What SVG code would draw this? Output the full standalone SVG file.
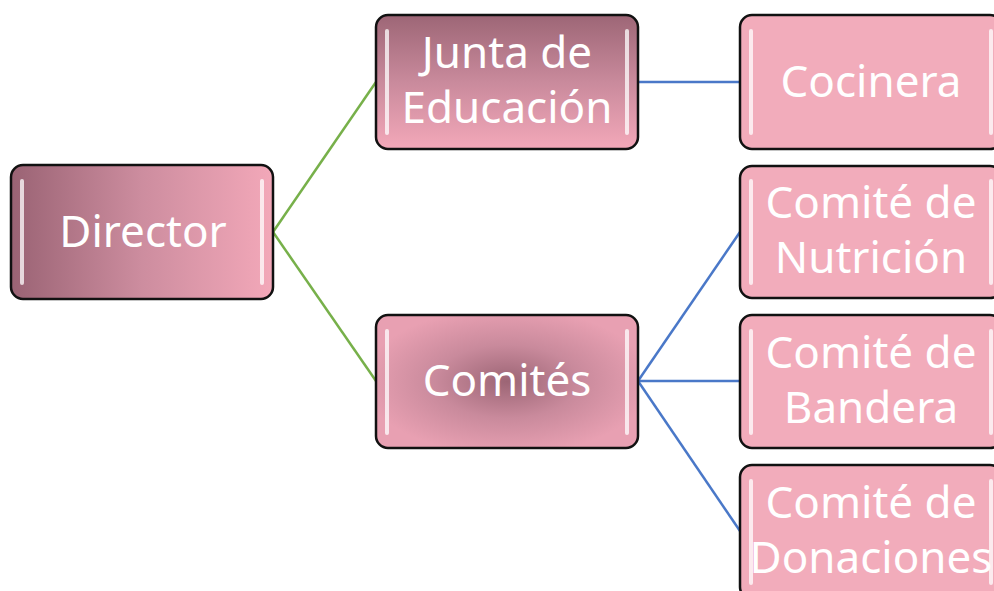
<svg xmlns="http://www.w3.org/2000/svg" width="994" height="591" viewBox="0 0 994 591">
<style>
.box{stroke:#111;stroke-width:2.5}
.t{font-family:"Noto Sans","Open Sans",sans-serif;font-size:44px;fill:#fff;text-anchor:middle}
.hl{fill:#fff;opacity:0.75}
.g{stroke:#77b04a;stroke-width:2.5;fill:none}
.b{stroke:#4a78c8;stroke-width:2.5;fill:none}
</style>
<defs>
<linearGradient id="gh" x1="0" y1="0" x2="1" y2="0">
<stop offset="0" stop-color="#9a6374"/><stop offset="0.5" stop-color="#cd8d9f"/><stop offset="1" stop-color="#f3a8b9"/>
</linearGradient>
<linearGradient id="gv" x1="0" y1="0" x2="0" y2="1">
<stop offset="0" stop-color="#9d6676"/><stop offset="0.5" stop-color="#c98a9c"/><stop offset="1" stop-color="#f3a8b9"/>
</linearGradient>
<radialGradient id="gr" cx="0.5" cy="0.5" r="0.55">
<stop offset="0" stop-color="#9c6575"/><stop offset="0.5" stop-color="#c98a9c"/><stop offset="1" stop-color="#e8a0b2"/>
</radialGradient>
</defs>
<g id="connectors">
<path class="g" d="M273 232 L376 82"/>
<path class="g" d="M273 232 L376 381"/>
<path class="b" d="M638 82 L740 82"/>
<path class="b" d="M638 381 L740 232"/>
<path class="b" d="M638 381 L740 381"/>
<path class="b" d="M638 381 L740 531"/>
</g>
<g id="director">
<rect class="box" x="11" y="165" width="262" height="134" rx="12" fill="url(#gh)"/>
<rect class="hl" x="20" y="179" width="4" height="106" rx="2"/>
<rect class="hl" x="260" y="179" width="4" height="106" rx="2"/>
<text class="t" x="143" y="247">Director</text>
</g>
<g id="junta">
<rect class="box" x="376" y="15" width="262" height="134" rx="12" fill="url(#gv)"/>
<rect class="hl" x="385" y="29" width="4" height="106" rx="2"/>
<rect class="hl" x="625" y="29" width="4" height="106" rx="2"/>
<text class="t" x="507" y="68">Junta de</text>
<text class="t" x="507" y="123">Educación</text>
</g>
<g id="comites">
<rect class="box" x="376" y="315" width="262" height="133" rx="12" fill="url(#gr)"/>
<rect class="hl" x="385" y="329" width="4" height="106" rx="2"/>
<rect class="hl" x="625" y="329" width="4" height="106" rx="2"/>
<text class="t" x="507" y="396">Comités</text>
</g>
<g id="cocinera">
<rect class="box" x="740" y="15" width="262" height="134" rx="12" fill="#f2acbb"/>
<rect class="hl" x="749" y="29" width="4" height="106" rx="2"/>
<rect class="hl" x="989" y="29" width="4" height="106" rx="2"/>
<text class="t" x="871" y="97">Cocinera</text>
</g>
<g id="nutricion">
<rect class="box" x="740" y="166" width="262" height="132" rx="12" fill="#f2acbb"/>
<rect class="hl" x="749" y="179" width="4" height="106" rx="2"/>
<rect class="hl" x="989" y="179" width="4" height="106" rx="2"/>
<text class="t" x="871" y="218">Comité de</text>
<text class="t" x="871" y="273">Nutrición</text>
</g>
<g id="bandera">
<rect class="box" x="740" y="315" width="262" height="133" rx="12" fill="#f2acbb"/>
<rect class="hl" x="749" y="329" width="4" height="106" rx="2"/>
<rect class="hl" x="989" y="329" width="4" height="106" rx="2"/>
<text class="t" x="871" y="368">Comité de</text>
<text class="t" x="871" y="423">Bandera</text>
</g>
<g id="donaciones">
<rect class="box" x="740" y="465" width="262" height="134" rx="12" fill="#f2acbb"/>
<rect class="hl" x="749" y="479" width="4" height="106" rx="2"/>
<rect class="hl" x="989" y="479" width="4" height="106" rx="2"/>
<text class="t" x="871" y="518">Comité de</text>
<text class="t" x="871" y="573">Donaciones</text>
</g>
</svg>
